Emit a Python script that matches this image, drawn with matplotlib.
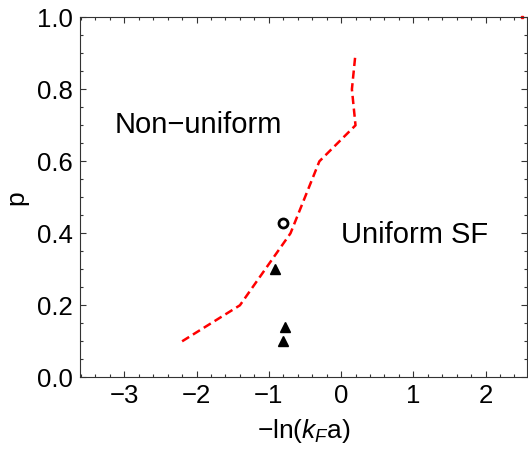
import matplotlib
matplotlib.use("Agg")
import matplotlib.pyplot as plt

plt.rcParams['font.family'] = ['Liberation Sans', 'DejaVu Sans']
plt.rcParams['mathtext.fontset'] = 'custom'
plt.rcParams['mathtext.rm'] = 'Liberation Sans'
plt.rcParams['mathtext.it'] = 'Liberation Sans:italic'

# phase boundary (red dashed)
bx = [-2.2, -1.4, -0.7, -0.3, 0.2, 0.15, 0.2]
by = [0.1, 0.2, 0.4, 0.6, 0.7, 0.8, 0.9]

# open circle point
cx = [-0.8]
cy = [0.43]

# filled triangles
tx = [-0.92, -0.78, -0.8]
ty = [0.3, 0.14, 0.1]

fig = plt.figure(figsize=(5.28, 4.53), dpi=100)
ax = fig.add_axes([0.1506, 0.1671, 0.8484, 0.7947])

ax.plot(bx, by, color='#ff0000', lw=1.8, linestyle=(0, (3.3, 1.8)))
ax.plot(cx, cy, 'o', ms=6.5, mfc='none', mec='black', mew=2)
ax.plot(tx, ty, '^', ms=7.5, color='black')
ax.plot([2.5], [1.0], 's', ms=2, color='#ff0000', clip_on=False)

ax.text(-3.14, 0.70, "Non\u2212uniform", fontsize=21, va='center', ha='left')
ax.text(0.0, 0.395, "Uniform SF", fontsize=21, va='center', ha='left')

ax.set_xlim(-3.62, 2.58)
ax.set_ylim(0, 1.0)
ax.set_xticks([-3, -2, -1, 0, 1, 2])
ax.set_yticks([0.0, 0.2, 0.4, 0.6, 0.8, 1.0])
ax.set_yticklabels(['0.0', '0.2', '0.4', '0.6', '0.8', '1.0'])
ax.xaxis.set_minor_locator(matplotlib.ticker.MultipleLocator(0.2))
ax.yaxis.set_minor_locator(matplotlib.ticker.MultipleLocator(0.05))
ax.tick_params(which='both', direction='in', top=True, right=True,
               labelsize=18.5, color='#333333', width=0.8)
ax.tick_params(which='major', length=4.5, pad=5)
ax.tick_params(which='minor', length=2.5)
for s in ax.spines.values():
    s.set_linewidth(0.8)
    s.set_color('#333333')

ax.set_xlabel("\u2212ln($k_F$a)", fontsize=19, labelpad=6)
ax.set_ylabel("p", fontsize=19, labelpad=6)

fig.savefig("out.png", dpi=100)
